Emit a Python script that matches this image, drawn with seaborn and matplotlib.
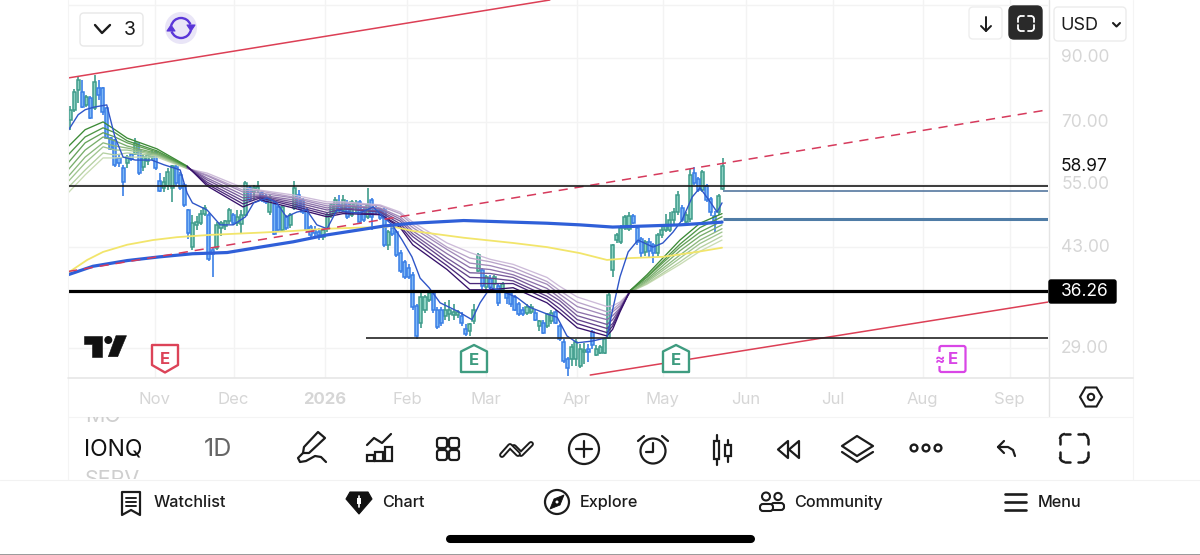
import numpy as np
import pandas as pd
import matplotlib
matplotlib.use("Agg")
import matplotlib.pyplot as plt
import seaborn as sns
from matplotlib.patches import Circle, Arc, FancyBboxPatch, Polygon, Rectangle, RegularPolygon

# daily candles for IONQ
opens = [70.6,73.5,79.4,78.8,74.9,77.0,74.1,80.0,80.0,74.0,
         65.8,65.3,60.9,58.5,59.6,61.9,61.9,62.8,58.8,60.1,
         61.1,62.2,55.7,54.2,54.6,54.2,58.8,57.0,54.8,49.7,
         43.0,46.9,47.2,49.0,48.8,42.6,42.9,46.4,46.7,47.6,
         48.8,47.2,47.0,48.8,54.2,53.3,53.7,53.1,52.3,49.3,
         50.9,50.3,46.0,48.4,46.9,50.1,52.7,51.7,49.7,46.5,
         46.0,45.6,44.8,46.2,48.8,49.3,50.7,49.7,51.1,48.8,
         50.3,51.3,49.7,48.4,51.7,50.1,49.7,49.7,43.4,46.4,
         45.6,42.0,40.6,39.7,38.6,34.2,32.0,33.7,35.0,36.0,
         33.7,33.7,32.9,33.1,33.0,33.0,32.8,31.2,31.0,32.2,
         39.1,39.4,36.8,38.0,37.2,36.9,36.4,36.0,36.0,35.4,
         34.4,33.7,33.3,33.4,33.2,31.6,32.0,31.6,32.2,33.4,
         31.6,29.7,27.8,27.8,27.8,27.0,28.6,28.9,30.9,28.2,
         28.4,28.4,30.2,39.4,44.2,43.9,46.3,46.2,48.6,46.4,
         44.4,42.2,43.8,43.4,42.0,45.1,46.0,46.0,47.8,49.3,
         50.1,47.4,48.0,57.4,56.1,53.7,54.6,51.9,48.6,49.3,54.0]
highs = [74.6,79.7,83.6,82.6,77.9,77.6,84.2,82.6,80.3,74.3,
         66.1,65.5,61.6,59.3,61.6,62.2,65.8,64.6,61.6,61.9,
         62.8,62.8,57.4,56.5,58.5,59.3,59.3,57.7,55.2,49.9,
         48.8,48.6,49.7,50.7,49.2,42.9,47.5,47.6,47.8,50.1,
         49.2,49.7,49.7,55.6,54.6,54.8,55.7,53.7,52.9,52.7,
         51.7,50.7,50.7,48.8,49.2,55.6,53.7,52.1,50.1,46.9,
         46.7,46.4,46.4,49.3,51.1,52.3,52.7,52.7,51.7,51.7,
         51.7,51.7,50.1,54.2,52.1,50.5,50.1,50.1,46.0,47.1,
         46.0,42.6,40.9,40.2,39.0,34.4,35.9,35.7,36.4,36.4,
         34.0,34.0,34.7,35.0,34.4,33.7,33.4,31.8,32.0,34.4,
         42.0,39.7,38.6,38.5,38.6,37.2,37.5,36.4,36.4,35.7,
         34.7,34.0,34.5,34.4,33.7,32.4,32.4,33.3,33.7,33.7,
         31.8,30.0,28.0,29.5,30.0,29.5,29.6,29.5,31.1,29.4,
         29.4,30.2,35.9,43.5,45.4,46.9,48.8,49.3,49.0,46.9,
         44.8,44.2,44.6,43.7,45.5,46.7,49.0,49.3,50.1,53.5,
         50.7,49.3,58.3,58.8,56.5,58.1,55.0,52.3,49.6,52.9,60.9]
lows = [68.0,72.9,75.5,74.1,74.3,71.0,73.5,76.4,72.1,65.5,
        62.8,58.8,58.8,52.5,58.5,60.1,61.6,57.0,57.8,59.3,
        60.4,58.1,53.3,53.3,53.7,51.3,54.6,53.7,50.3,44.4,
        42.6,46.0,46.9,48.6,40.7,38.3,42.6,44.9,46.0,47.0,
        46.9,46.7,45.3,48.5,51.3,51.7,53.1,51.3,50.9,48.8,
        45.1,45.6,45.6,46.0,46.4,49.7,49.7,49.0,45.6,44.8,
        44.6,44.2,44.2,45.6,48.2,49.0,49.3,49.3,48.0,48.4,
        49.3,47.0,47.4,48.0,46.0,49.0,47.8,43.0,42.6,44.9,
        41.4,38.8,38.0,37.9,33.6,30.1,31.4,33.3,34.7,33.3,
        31.2,31.6,32.4,32.2,32.4,32.6,31.6,30.4,30.4,31.9,
        39.0,36.5,36.4,36.4,36.7,34.2,36.0,34.4,34.0,33.5,
        32.8,32.9,33.0,33.1,32.2,31.0,30.6,31.3,31.8,31.8,
        29.8,27.4,26.0,27.0,27.0,26.8,27.3,27.5,28.9,28.1,
        28.3,28.3,30.0,38.3,43.7,43.6,46.0,45.8,47.0,43.4,
        41.3,41.6,41.3,40.4,41.5,44.6,45.6,45.6,47.0,48.8,
        47.4,46.7,47.4,54.8,53.3,53.3,51.3,48.6,45.6,48.8,53.7]
closes = [73.5,78.8,82.6,74.3,77.3,71.2,82.0,77.9,72.9,65.8,
          63.1,59.3,59.6,55.4,61.1,60.6,64.6,57.4,61.1,61.6,
          61.9,58.5,53.5,55.4,57.7,59.0,55.2,54.2,50.7,45.5,
          47.3,47.5,49.0,50.1,41.1,41.9,46.9,47.3,47.6,49.7,
          47.2,48.4,48.8,55.2,51.7,54.2,54.4,51.7,51.3,52.1,
          45.3,46.0,50.3,46.4,48.8,54.2,50.3,49.3,46.0,45.1,
          45.5,45.1,46.0,48.8,50.7,51.7,49.7,51.7,48.4,51.3,
          51.1,47.4,47.8,50.7,48.4,49.3,48.2,43.4,45.6,45.3,
          41.7,39.1,38.3,38.2,34.0,30.4,35.4,35.4,35.9,33.7,
          31.5,32.0,33.7,33.6,33.4,33.4,32.0,30.6,31.8,33.7,
          41.7,36.9,38.2,36.8,38.2,34.6,37.2,35.3,34.4,33.7,
          33.1,33.1,34.1,34.0,32.4,32.2,30.8,33.1,33.3,32.0,
          30.0,27.6,26.8,29.1,29.7,28.9,28.8,28.5,29.3,28.9,
          29.1,30.0,35.7,43.4,45.1,46.3,48.4,48.6,47.2,43.9,
          42.0,43.9,42.4,42.0,45.1,46.0,46.9,47.8,49.3,52.7,
          47.8,48.8,57.0,55.3,53.7,57.7,51.7,49.3,47.4,52.5,58.97]

# thin blue fast average
fast_bars = [-0.5,2,3.7,6,9,11,13,16,20,23,27,28.7,30,33.6,36.8,40,43,45,48.3,50.7,53,55.6,58,60.5,63,
             65.4,68,71,74.3,76.7,79,81.4,83.8,85.8,88,90.7,94.9,98.5,100.5,103,106,109.6,112.7,117,119.4,
             121.8,124.3,128,131.6,133,134.8,136.8,139.2,142.9,145.3,147.8,150,152.5,154.4,156.9,158.6,159.8]
fast_vals = [67.7,72.1,73.5,74.3,74.9,66.1,61.1,60.4,60.4,59.3,58.1,53.1,51.1,49.7,46.9,46.9,48.4,51.1,52.1,51.1,48.4,49.3,49.7,46.9,46.2,
             49.7,49.3,49.1,50.3,48.4,46.9,44.2,41.4,38.1,36.7,34.6,33.5,32.4,34.6,36.7,36.2,35.3,34.0,33.1,32.7,
             30.4,29.6,29.8,30.2,33.7,38.3,42.2,44.2,43.0,43.7,45.6,47.8,52.3,54.2,51.3,49.3,51.1]

# thick blue and yellow long averages
slow_bars = [-0.5,5.6,14,22,30,38.5,46.6,54.7,63,71,77,84,96.5,116.9,125,133,141.4,149.5,159.8]
slow_vals = [38.6,39.9,40.8,41.4,41.9,42.1,43.0,43.9,45.1,46.0,46.7,47.2,47.7,47.2,46.9,46.5,46.7,46.9,47.4]
yellow_bars = [-0.5,4.2,8.1,14,20.3,26.2,34.3,46.6,54.7,63,71,77.2,78.4,84,96.5,108.6,116.9,125,131.6,137.3,145.3,153.7,159.8]
yellow_vals = [38.9,40.9,42.2,43.4,44.2,44.7,45.1,45.5,45.8,46.2,46.4,46.5,46.7,45.8,44.6,43.7,43.0,42.0,40.9,41.2,41.4,42.2,42.9]

# ribbon of eight averages, fastest first, on shared bar positions
ribbon_bars = [-0.5,3.7,8.1,11,14,21.3,28.7,33.6,42.4,46.6,54.7,63,66.9,76,80.9,84,92.4,98,103,108.6,
               116.9,120,124.3,131.6,133,134.8,137.3,141.4,149.5,154.4,159.8]
ema_1 = [63.6,68.0,70.1,68.0,65.8,63.1,59.0,54.6,50.3,51.7,50.1,48.4,49.0,48.8,46.4,43.4,39.4,36.4,36.4,36.7,
         34.6,33.3,31.4,30.4,31.2,33.4,36.3,38.6,44.2,47.2,49.0]
ema_2 = [61.6,66.1,68.5,67.2,65.1,62.6,58.9,55.0,50.9,52.1,50.5,48.8,49.3,48.9,46.7,44.1,40.0,37.3,37.3,37.3,
         35.1,33.8,31.9,30.8,31.6,33.6,36.3,38.3,43.5,46.4,48.4]
ema_3 = [59.7,64.6,67.2,66.1,64.6,62.3,58.8,55.4,51.5,52.3,50.9,49.2,49.9,49.3,47.1,44.8,40.6,38.2,38.1,37.7,
         35.5,34.4,32.4,31.3,31.9,33.7,36.3,38.2,43.0,45.6,47.6]
ema_4 = [58.1,62.8,66.1,65.1,63.8,62.0,58.8,55.9,52.1,52.5,51.3,49.7,50.1,49.5,47.6,45.3,41.2,38.9,38.8,38.2,
         36.0,34.9,32.9,31.8,32.4,33.8,36.3,37.9,42.4,44.9,46.9]
ema_5 = [56.6,61.1,64.6,63.8,63.3,61.8,58.7,56.3,52.7,52.7,51.7,50.1,50.5,49.9,48.0,45.8,41.9,39.7,39.4,38.6,
         36.6,35.3,33.4,32.4,32.9,33.9,36.1,37.7,41.7,44.2,46.2]
ema_6 = [55.5,59.7,63.6,62.8,62.8,61.6,58.5,56.8,53.3,53.1,52.1,50.5,50.7,50.1,48.4,46.4,42.6,40.4,40.0,39.1,
         37.2,35.8,34.1,32.9,33.4,34.2,36.1,37.5,41.2,43.6,45.6]
ema_7 = [54.2,58.1,62.1,61.6,62.1,61.4,58.5,57.0,53.7,53.5,52.3,50.9,51.1,50.5,49.0,46.9,43.0,41.2,40.6,39.7,
         37.6,36.3,34.7,33.4,33.7,34.5,36.1,37.3,40.6,42.9,44.9]
ema_8 = [53.1,57.0,60.9,60.9,61.1,61.1,58.4,57.4,54.2,53.7,52.7,51.3,51.3,50.7,49.3,47.4,43.7,42.1,41.0,40.2,
         38.2,36.9,35.4,34.1,34.2,34.7,36.1,37.2,40.2,42.3,44.2]

# drawn trend lines: (bar, price) end points and level prices
upper_bars, upper_vals = [-0.5, 117.6], [83.2, 112.8]
dashed_bars, dashed_vals = [-0.5, 239.7], [39.1, 73.5]
lower_bars, lower_vals = [127.5, 239.7], [26.1, 34.7]
level_top = 54.6
level_mid = 36.26
level_low = 30.2
level_low_start = 72.5
blue_level_a = 53.5
blue_level_b = 48.0
last_price = 58.97

price_ticks = [90, 70, 55, 43, 29]
month_bars = [20.8, 40.1, 62.5, 82.7, 102, 124.2, 145.3, 165.6, 187, 209, 230.3]
month_labels = ["Nov", "Dec", "2026", "Feb", "Mar", "Apr", "May", "Jun", "Jul", "Aug", "Sep"]

W, H = 1200, 555
sns.set_theme(style="white")
plt.rcParams["font.family"] = ["Inter", "DejaVu Sans"]
plt.rcParams["ytick.alignment"] = "center"

fig = plt.figure(figsize=(W / 100, H / 100), dpi=100, facecolor="white")
ax = fig.add_axes([68 / W, 1 - 378 / H, 980 / W, 378 / H])
ax.set_yscale("log")

UP_EDGE, UP_FILL = "#3f9c8b", "#8fd3c4"
DOWN_EDGE, DOWN_FILL = "#3a7fe6", "#7fb8f5"

candles = pd.DataFrame({"open": opens, "high": highs, "low": lows, "close": closes})
candles["bar"] = candles.index
for rising, edge, fill in [(True, UP_EDGE, UP_FILL), (False, DOWN_EDGE, DOWN_FILL)]:
    part = candles[(candles["close"] >= candles["open"]) == rising]
    ax.vlines(part["bar"], part["low"], part["high"], color=edge, lw=1.2, zorder=2)
    ax.bar(part["bar"], (part["close"] - part["open"]).abs(), bottom=part[["open", "close"]].min(axis=1),
           width=0.74, color=fill, edgecolor=edge, linewidth=1.1, zorder=3)


def draw_line(bars, vals, color, lw, z, ls="-"):
    sns.lineplot(x=bars, y=vals, ax=ax, color=color, linewidth=lw, linestyle=ls, sort=False,
                 estimator=None, errorbar=None, legend=False, zorder=z)


# ribbon colour flips with the trend, green, then purple, then green
greens = sns.blend_palette(["#3b8a35", "#c9dcb4"], 8)
purples = sns.blend_palette(["#37116b", "#cdbbd9"], 8)
ribbon = [ema_1, ema_2, ema_3, ema_4, ema_5, ema_6, ema_7, ema_8]
flip_a, flip_b = 6, 26
for k in range(7, -1, -1):
    vals = ribbon[k]
    draw_line(ribbon_bars[:flip_a + 1], vals[:flip_a + 1], greens[k], 0.95, 4)
    draw_line(ribbon_bars[flip_a:flip_b + 1], vals[flip_a:flip_b + 1], purples[k], 0.95, 4)
    draw_line(ribbon_bars[flip_b:], vals[flip_b:], greens[k], 0.95, 4)

draw_line(yellow_bars, yellow_vals, "#f2e56b", 1.3, 5)
draw_line(fast_bars, fast_vals, "#2f56c8", 1.0, 5)
draw_line(slow_bars, slow_vals, "#2f5fd8", 2.3, 6)

draw_line(upper_bars, upper_vals, "#dc3f55", 1.1, 7)
draw_line(dashed_bars, dashed_vals, "#d63a5c", 1.1, 7, (0, (6, 4.5)))
draw_line(lower_bars, lower_vals, "#dc3f55", 1.1, 7)

ax.hlines(level_top, -0.5, 239.7, color="#1a1a1a", lw=1.2, zorder=8)
ax.hlines(level_mid, -0.5, 239.7, color="black", lw=2.3, zorder=8)
ax.hlines(level_low, level_low_start, 239.7, color="#222222", lw=1.2, zorder=8)
ax.hlines(blue_level_a, 160, 239.7, color="#55789f", lw=1.2, zorder=8)
ax.hlines(blue_level_b, 160, 239.7, color="#4f7ca6", lw=2.2, zorder=8)

ax.set_xlim(-0.5, 239.7)
ax.set_ylim(25.8, 112.8)
ax.yaxis.set_minor_locator(matplotlib.ticker.NullLocator())
ax.yaxis.set_minor_formatter(matplotlib.ticker.NullFormatter())
ax.yaxis.tick_right()
ax.set_yticks(price_ticks, labels=[f"{p:.2f}" for p in price_ticks])
ax.set_xticks(month_bars, labels=month_labels)
ax.tick_params(axis="both", length=0, labelcolor="#d6d6d6", labelsize=12)
ax.tick_params(axis="y", pad=9.5, labelsize=12.5)
ax.tick_params(axis="x", pad=10.2)
ax.get_xticklabels()[2].set_fontweight("bold")
ax.grid(True, color="#f3f3f3", lw=1.0, zorder=0)
ax.axhline(110.8, color="#f3f3f3", lw=1.0, zorder=0)
ax.set_axisbelow(True)
for side in ax.spines:
    ax.spines[side].set_visible(False)

# app chrome on a pixel-coordinate overlay
ui = fig.add_axes([0, 0, 1, 1], zorder=5)
ui.set_xlim(0, W)
ui.set_ylim(H, 0)
ui.axis("off")
ui.patch.set_alpha(0)
INK = "#1c1c1c"


def line(xs, ys, lw=1.6, color=INK, z=3):
    ui.plot(xs, ys, color=color, lw=lw, solid_capstyle="round", solid_joinstyle="round", zorder=z)


def box(x0, y0, x1, y1, r=4, fc="white", ec="#e8e8e8", lw=1.0, z=2):
    ui.add_patch(FancyBboxPatch((x0 + r, y0 + r), x1 - x0 - 2 * r, y1 - y0 - 2 * r,
                                boxstyle=f"round,pad={r},rounding_size={r}", fc=fc, ec=ec, lw=lw, zorder=z))


def outline(pts, color=INK, lw=1.6, fc="none", z=3):
    ui.add_patch(Polygon(pts, closed=True, fc=fc, ec=color, lw=lw, joinstyle="round", zorder=z))


def corners(x0, y0, x1, y1, r, run, color=INK, lw=1.8):
    for cx, sx, a in [(x0, 1, 180), (x1, -1, 270)]:
        ui.add_patch(Arc((cx + sx * r, y0 + r), 2 * r, 2 * r, theta1=a, theta2=a + 90, color=color, lw=lw, zorder=4))
        line([cx + sx * r, cx + sx * run], [y0, y0], lw, color, 4)
        line([cx, cx], [y0 + r, y0 + run], lw, color, 4)
    for cx, sx, a in [(x0, 1, 90), (x1, -1, 0)]:
        ui.add_patch(Arc((cx + sx * r, y1 - r), 2 * r, 2 * r, theta1=a, theta2=a + 90, color=color, lw=lw, zorder=4))
        line([cx + sx * r, cx + sx * run], [y1, y1], lw, color, 4)
        line([cx, cx], [y1 - r, y1 - run], lw, color, 4)


def label(x, y, s, size=12.5, color=INK, ha="left", weight="normal", z=4):
    # Inter sits a little high when centred
    return ui.text(x, y + 1.5, s, fontsize=size, color=color, ha=ha, va="center", fontweight=weight, zorder=z)


# separators
for x in (67.5, 1133):
    line([x, x], [0, 479], 0.8, "#f4f4f4", 1)
line([1048.5, 1048.5], [0, 416], 1.0, "#e4e4e4", 1)
line([68, 1133], [378, 378], 1.2, "#e6e6e6", 1)
line([68, 1133], [417, 417], 0.8, "#f4f4f4", 1)
line([0, 1200], [479.5, 479.5], 0.8, "#f2f2f2", 1)
line([0, 1200], [554.5, 554.5], 1.4, "#9a9a9a", 1)

# top left controls
box(80, 13, 143, 46)
line([95, 102, 110], [25, 33, 25], 1.7)
label(130, 28.5, "3", 14, ha="center")
ui.add_patch(Circle((181, 28), 16, fc="#e9e5f7", ec="none", zorder=2))
ui.add_patch(Arc((181, 28), 20, 20, theta1=195, theta2=340, color="#5a36d8", lw=1.7, zorder=3))
ui.add_patch(Arc((181, 28), 20, 20, theta1=15, theta2=160, color="#5a36d8", lw=1.7, zorder=3))
outline([(187, 25), (195, 25), (191, 31)], "#5a36d8", 0.8, "#5a36d8")
outline([(167, 31), (175, 31), (171, 25)], "#5a36d8", 0.8, "#5a36d8")

# top right controls
box(969, 7, 1002, 39, ec="#eeeeee")
line([986, 986], [17, 31], 1.4)
line([981, 986, 991], [26, 31, 26], 1.4)
box(1009, 6, 1042, 39, r=5, fc="#2a2a2a", ec="#2a2a2a")
corners(1018, 16, 1034, 31, 3, 6, "white", 1.3)
box(1054, 7, 1126, 41, ec="#ececec")
label(1060, 23.5, "USD", 13)
line([1113, 1116.5, 1120], [23, 26.5, 23], 1.5)

# last price readout
label(1061, 165, f"{last_price:.2f}", 12.5, "#111111")

# logo
outline([(84, 336), (101.7, 336), (101.7, 356.7), (92.3, 356.7), (92.3, 344), (84, 344)], "#111111", 0.4, "#111111")
ui.add_patch(Circle((108.3, 340), 4, fc="#111111", ec="none", zorder=3))
outline([(116, 335.7), (126.5, 335.7), (117.7, 356.7), (108.3, 356.7)], "#111111", 0.4, "#111111")

# earnings markers
RED_E, GREEN_E, PINK_E = "#dc4358", "#3f9c80", "#d946e6"
outline([(152, 345), (178, 345), (178, 365), (165, 372.5), (152, 365)], RED_E, 1.7, "white")
label(165, 357.5, "E", 12, RED_E, "center", "bold")
for cx in (474, 676):
    outline([(cx, 345), (cx + 13, 351.5), (cx + 13, 372), (cx - 13, 372), (cx - 13, 351.5)], GREEN_E, 1.7, "white")
    label(cx, 359, "E", 12, GREEN_E, "center", "bold")
box(939.5, 346, 965.5, 372, r=2, ec=PINK_E, lw=1.6, fc="white", z=3)
ui.add_patch(Rectangle((934, 352), 9, 14, fc="white", ec="none", zorder=3))
label(952.5, 358, "E", 12, PINK_E, "center", "bold")
label(940.5, 358, "≈", 11, PINK_E, "center", "bold")

# price tag
box(1049, 280, 1116, 303, r=2, fc="black", ec="black")
label(1061, 290.5, f"{level_mid:.2f}", 12.5, "white")

# settings hexagon
ui.add_patch(RegularPolygon((1091, 397), 6, radius=11, orientation=np.pi / 2, fc="white", ec=INK, lw=1.5, zorder=3))
ui.add_patch(Circle((1091, 397), 3.2, fc="white", ec=INK, lw=1.5, zorder=4))

# symbol list
clip = Rectangle((68, 417), 1065, 62, transform=ui.transData)
for txt in (label(85, 415, "MO", 15.5, "#cfcfcf"), label(85, 478, "SERV", 15.5, "#cfcfcf")):
    txt.set_clip_on(True)
    txt.set_clip_path(clip)
label(84.5, 448, "IONQ", 16.5, "#111111")
label(204, 448, "1D", 18, "#666666")

# toolbar icons
outline([(318, 432), (325, 438), (309, 453), (303, 453), (304, 447)])
line([303, 298, 300, 306, 315, 321, 326], [453, 458, 462, 461, 456, 457, 462])
line([367, 374, 382, 391], [445, 438, 443, 434])
for x0, x1, y0 in [(367, 374, 455), (375, 383, 452), (385, 392, 447)]:
    ui.add_patch(Rectangle((x0, y0), x1 - x0, 460.5 - y0, fc="none", ec=INK, lw=1.6, zorder=3))
for x0 in (437, 449):
    for y0 in (438, 450):
        box(x0, y0, x0 + 10, y0 + 10, r=2.5, fc="none", ec=INK, lw=1.6, z=3)
line([514, 521, 531], [447, 454, 444], 4.2)
line([514, 521, 531], [447, 454, 444], 1.4, "white", 3)
line([502, 510, 518], [455, 446, 454], 4.2, INK, 3)
line([502, 510, 518], [455, 446, 454], 1.4, "white", 3)
ui.add_patch(Circle((584, 449), 15, fc="none", ec=INK, lw=1.6, zorder=3))
line([576, 592], [449, 449])
line([584, 584], [441, 457])
ui.add_patch(Circle((653, 451), 12.5, fc="none", ec=INK, lw=1.6, zorder=3))
line([653, 653, 646], [443, 452, 452])
line([638, 644], [441, 436])
line([668, 662], [441, 436])
line([716.5, 716.5], [435, 465])
ui.add_patch(Rectangle((714, 441), 5, 18, fc="white", ec=INK, lw=1.6, zorder=3))
line([728, 728], [440, 462])
ui.add_patch(Rectangle((725, 445), 6, 11, fc="white", ec=INK, lw=1.6, zorder=3))
outline([(788, 441), (778, 449.5), (788, 458)])
outline([(799, 441), (789, 449.5), (799, 458)])
outline([(857, 436), (873, 446), (857, 456), (842, 446)])
line([842, 857, 873], [452, 462, 452])
for cx in (914, 926, 938):
    ui.add_patch(Circle((cx, 448), 3.4, fc="none", ec=INK, lw=1.7, zorder=3))
line([1004, 998, 1004], [441, 447, 453])
line([998, 1008, 1013, 1015], [447, 447, 450, 456])
corners(1060, 434, 1088, 462, 5, 10)

# bottom navigation
outline([(122, 492), (140, 492), (140, 515), (131, 510), (122, 515)])
for y in (497.5, 501.5, 505.5):
    line([126, 136], [y, y], 1.4)
label(154, 501, "Watchlist", 11.7, weight=500)
outline([(350, 492), (368, 492), (372, 499), (359, 514), (346, 499)], "#111111", 0.8, "#111111")
line([359, 359], [496, 507], 1.2, "white", 4)
ui.add_patch(Rectangle((357, 498), 4, 6, fc="white", ec="none", zorder=4))
label(382, 501, "Chart", 11.7, weight=500)
ui.add_patch(Circle((557, 502), 12, fc="none", ec=INK, lw=1.6, zorder=3))
outline([(564, 495), (560, 505), (550, 509), (554, 499)], "#111111", 0.6, "#111111")
ui.add_patch(Circle((557, 502), 1.5, fc="white", ec="none", zorder=4))
label(580, 501, "Explore", 11.7, weight=500)
ui.add_patch(Circle((766, 496.5), 4, fc="none", ec=INK, lw=1.5, zorder=3))
ui.add_patch(Circle((778, 496.5), 3.6, fc="none", ec=INK, lw=1.5, zorder=3))
box(760, 504, 773, 511, r=3, fc="white", ec=INK, lw=1.5, z=4)
box(771, 503, 784, 510, r=3, fc="white", ec=INK, lw=1.5, z=3)
label(794, 501, "Community", 11.7, weight=500)
for y in (494, 502, 510):
    line([1005, 1026], [y, y], 1.9)
label(1038, 501, "Menu", 11.7, weight=500)
line([450, 751], [539, 539], 5.8, "black")

fig.savefig("out.png", dpi=100, facecolor="white")
